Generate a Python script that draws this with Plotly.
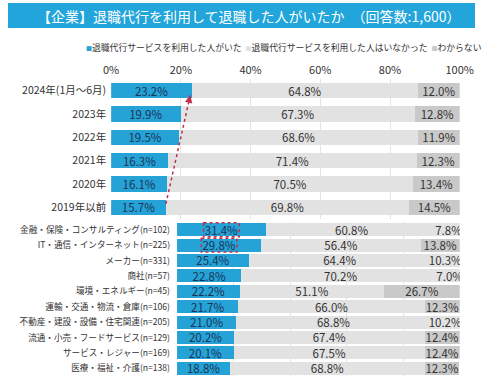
import plotly.graph_objects as go

# ---------------- data ----------------
years = ["2024年(1月～6月)", "2023年", "2022年", "2021年", "2020年", "2019年以前"]
year_used = [23.2, 19.9, 19.5, 16.3, 16.1, 15.7]
year_not = [64.8, 67.3, 68.6, 71.4, 70.5, 69.8]
year_unknown = [12.0, 12.8, 11.9, 12.3, 13.4, 14.5]

industries = [
    "金融・保険・コンサルティング(n=102)",
    "IT・通信・インターネット(n=225)",
    "メーカー(n=331)",
    "商社(n=57)",
    "環境・エネルギー(n=45)",
    "運輸・交通・物流・倉庫(n=106)",
    "不動産・建設・設備・住宅関連(n=205)",
    "流通・小売・フードサービス(n=129)",
    "サービス・レジャー(n=169)",
    "医療・福祉・介護(n=138)",
]
ind_used = [31.4, 29.8, 25.4, 22.8, 22.2, 21.7, 21.0, 20.2, 20.1, 18.8]
ind_not = [60.8, 56.4, 64.4, 70.2, 51.1, 66.0, 68.8, 67.4, 67.5, 68.8]
ind_unknown = [7.8, 13.8, 10.3, 7.0, 26.7, 12.3, 10.2, 12.4, 12.4, 12.3]

series_names = ["退職代行サービスを利用した人がいた", "退職代行サービスを利用した人はいなかった", "わからない"]
tick_vals = [0, 20, 40, 60, 80, 100]
tick_text = ["0%", "20%", "40%", "60%", "80%", "100%"]
title_text = "【企業】退職代行を利用して退職した人がいたか　（回答数:1,600）"
highlight_rows = [0, 1]

# ---------------- style ----------------
FONT = "Noto Sans CJK JP"
BLUE = "#25a2d6"
LIGHT = "#e2e2e2"
DARK = "#c9c9c9"
NAVY = "#1b3456"
TXT = "#333333"
RED = "#c0304c"
W, H = 489, 380

def fmt(vals):
    return [f"{v:.1f}%" for v in vals]

fig = go.Figure()

def add_group(cats, used, notu, unk, xa, ya, width, unk_colors):
    for vals, color, tcol, name in [
        (used, BLUE, NAVY, series_names[0]),
        (notu, LIGHT, TXT, series_names[1]),
        (unk, unk_colors, TXT, series_names[2]),
    ]:
        fig.add_trace(go.Bar(
            y=cats, x=vals, orientation="h", name=name,
            xaxis=xa, yaxis=ya, width=width,
            marker=dict(color=color, line=dict(width=0)),
            text=fmt(vals), textposition="inside", insidetextanchor="middle",
            textangle=0, constraintext="none",
            textfont=dict(family=FONT, size=11.5, color=tcol),
            showlegend=False, hoverinfo="skip",
        ))

add_group(years, year_used, year_not, year_unknown, "x", "y", 0.65, DARK)
ind_unk_colors = [DARK if v >= 11 else LIGHT for v in ind_unknown]
add_group(industries, ind_used, ind_not, ind_unknown, "x2", "y2", 0.85, ind_unk_colors)

def px_x(p):
    return p / W

def px_y(p):
    return 1 - p / H

top_dom = [px_y(219), px_y(79)]
bot_dom = [px_y(376), px_y(222)]

fig.update_layout(
    width=W, height=H,
    margin=dict(l=0, r=0, t=0, b=0),
    paper_bgcolor="white", plot_bgcolor="white",
    barmode="stack",
    font=dict(family=FONT, color=TXT),
    uniformtext=dict(minsize=11.5, mode="show"),
    xaxis=dict(domain=[px_x(108), px_x(473)], range=[0, 100], side="top",
               tickvals=tick_vals, ticktext=tick_text, showgrid=True,
               gridcolor="#e4e4e4", zeroline=False, showline=False,
               tickfont=dict(family=FONT, size=11, color=TXT), anchor="y",
               ticks="", ticklabelstandoff=2),
    yaxis=dict(domain=top_dom, autorange="reversed", anchor="x",
               tickfont=dict(family=FONT, size=10.5, color=TXT),
               showgrid=False, ticks="", ticklabelstandoff=4),
    xaxis2=dict(domain=[px_x(177), px_x(473)], range=[0, 100],
                tickvals=tick_vals, showticklabels=False, showgrid=True,
                gridcolor="#e4e4e4", zeroline=False, anchor="y2", ticks=""),
    yaxis2=dict(domain=bot_dom, autorange="reversed", anchor="x2",
                tickfont=dict(family=FONT, size=8.6, color=TXT),
                showgrid=False, ticks="", ticklabelstandoff=6),
)

# title banner
fig.add_shape(type="rect", xref="paper", yref="paper", x0=0, x1=1,
              y0=px_y(28), y1=px_y(3), fillcolor="#22a5da", line=dict(width=0), layer="below")
fig.add_annotation(xref="paper", yref="paper", x=px_x(252), y=px_y(16), text=title_text,
                   showarrow=False, font=dict(family=FONT, size=14, color="white"),
                   xanchor="center", yanchor="middle")

# legend
leg = (f"<span style='color:{BLUE};font-size:6px'>■</span>{series_names[0]}  "
       f"<span style='color:{LIGHT};font-size:6px'>■</span>{series_names[1]}  "
       f"<span style='color:{DARK};font-size:6px'>■</span>{series_names[2]}")
fig.add_annotation(xref="paper", yref="paper", x=px_x(80), y=px_y(48), text=leg,
                   showarrow=False, font=dict(family=FONT, size=8.8, color=TXT),
                   xanchor="left", yanchor="middle")

# red dotted trend arrow (2019 -> 2024)
n = len(years)
x_start, y_start = year_used[-1], (n - 1) - 0.15
x_end, y_end = year_used[0] - 0.5, 0.2
fig.add_shape(type="line", xref="x", yref="y", x0=x_start, y0=y_start, x1=x_end, y1=y_end,
              line=dict(color=RED, width=1.5, dash="dot"))
fig.add_annotation(xref="x", yref="y", axref="x", ayref="y", x=x_end, y=y_end,
                   ax=x_end - 0.45, ay=y_end + 0.3, text="", showarrow=True,
                   arrowhead=2, arrowsize=1, arrowwidth=1.5, arrowcolor=RED, standoff=0)

# dashed highlight boxes around top industry values
for i in highlight_rows:
    c = ind_used[i] / 2
    fig.add_shape(type="rect", xref="x2", yref="y2", x0=c - 6.3, x1=c + 6.3,
                  y0=i - 0.45, y1=i + 0.45, line=dict(color=RED, width=1.5, dash="dot"),
                  fillcolor="rgba(0,0,0,0)")

fig.write_html("out.html", config={"displayModeBar": False},
               post_script="document.body.style.margin='0';document.body.style.overflow='hidden';")
